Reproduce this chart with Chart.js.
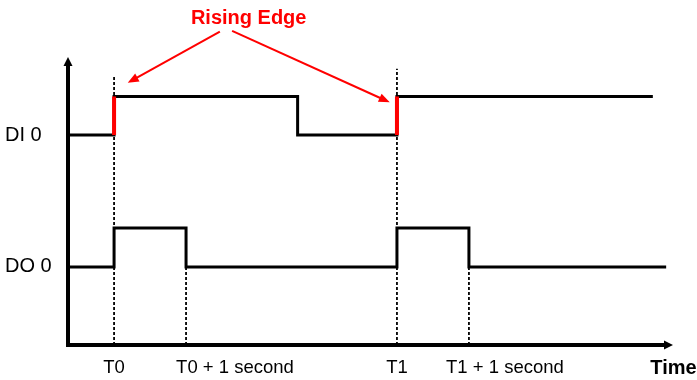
<!DOCTYPE html>
<html>
<head>
<meta charset="utf-8">
<script src="https://cdn.jsdelivr.net/npm/chart.js@4/dist/chart.umd.min.js"></script>
<style>
  html, body { margin: 0; padding: 0; background: #fff; }
  #wrap { width: 697px; height: 380px; }
</style>
</head>
<body>
<div id="wrap"><canvas id="c" width="697" height="380"></canvas></div>
<script>
// ---- data (time in seconds from axis origin, level in signal units) ----
const xTickValues = [0.64, 2.32, 4.57, 6.07];   // where the time labels sit
const xTickLabels = ['T0', 'T0 + 1 second', 'T1', 'T1 + 1 second'];
const yTickValues = [2, 5.38];
const yTickLabels = ['DO 0', 'DI 0'];

const diTimes  = [0, 0.64, 3.19, 4.57, 8.125];
const diLevels = [5.38, 6.37, 5.38, 6.37, 6.37];
const doTimes  = [0, 0.64, 1.64, 4.57, 5.57, 8.31];
const doLevels = [2, 3, 2, 3, 2, 2];

const markerTimes = [0.64, 1.64, 4.57, 5.57];
const markerTops  = [6.9, 3, 7.08, 3];

const xMax = 8.28;
const yMax = 7.15;

const annotationText = 'Rising Edge';
const annotationPos = { x: 2.51, y: 8.38 };
const arrowStarts = [{ x: 2.11, y: 8.03 }, { x: 2.28, y: 8.05 }];
const arrowTips   = [{ x: 0.83, y: 6.72 }, { x: 4.47, y: 6.22 }];
const axisTitle = 'Time';

// ---- build datasets ----
const FONT = "'Liberation Sans', Arial, sans-serif";
const toPts = (xs, ys) => xs.map((x, i) => ({ x: x, y: ys[i] }));

const risingEdges = [];
for (let i = 1; i < diTimes.length; i++) {
  if (diLevels[i] > diLevels[i - 1]) {
    risingEdges.push({
      label: 'rise' + i,
      data: [{ x: diTimes[i], y: diLevels[i - 1] }, { x: diTimes[i], y: diLevels[i] }],
      borderColor: '#ff0000', borderWidth: 4, pointRadius: 0, clip: false
    });
  }
}
const markers = markerTimes.map((t, i) => ({
  label: 'marker' + i,
  data: [{ x: t, y: 0 }, { x: t, y: markerTops[i] }],
  borderColor: '#000', borderWidth: 1.8, borderDash: [3, 2], pointRadius: 0, clip: false
}));

const datasets = [
  ...risingEdges,
  { label: 'DI 0', data: toPts(diTimes, diLevels), stepped: 'before', borderColor: '#000', borderWidth: 3, pointRadius: 0, clip: false },
  { label: 'DO 0', data: toPts(doTimes, doLevels), stepped: 'before', borderColor: '#000', borderWidth: 3, pointRadius: 0, clip: false },
  ...markers
];

function arrowHead(ctx, x1, y1, x2, y2, len, half) {
  const a = Math.atan2(y2 - y1, x2 - x1);
  ctx.beginPath();
  ctx.moveTo(x2, y2);
  ctx.lineTo(x2 - len * Math.cos(a) + half * Math.sin(a), y2 - len * Math.sin(a) - half * Math.cos(a));
  ctx.lineTo(x2 - len * Math.cos(a) - half * Math.sin(a), y2 - len * Math.sin(a) + half * Math.cos(a));
  ctx.closePath();
  ctx.fill();
}

const overlay = {
  id: 'overlay',
  afterDraw(chart) {
    const ctx = chart.ctx;
    const xs = chart.scales.x, ys = chart.scales.y;
    const ca = chart.chartArea;
    ctx.save();
    // axis arrowheads
    ctx.fillStyle = '#000';
    arrowHead(ctx, ca.left, ca.top + 10, ca.left, ca.top - 9, 9, 4.5);
    arrowHead(ctx, ca.right - 10, ca.bottom, ca.right + 9, ca.bottom, 9, 4.5);
    // Time label
    ctx.font = 'bold 20px ' + FONT;
    ctx.textAlign = 'center';
    ctx.textBaseline = 'middle';
    ctx.fillText(axisTitle, ca.right + 9.5, ca.bottom + 23);
    // annotation
    ctx.fillStyle = '#ff0000';
    ctx.strokeStyle = '#ff0000';
    ctx.font = 'bold 20px ' + FONT;
    ctx.fillText(annotationText, xs.getPixelForValue(annotationPos.x), ys.getPixelForValue(annotationPos.y));
    ctx.lineWidth = 2;
    arrowStarts.forEach((s, i) => {
      const x1 = xs.getPixelForValue(s.x), y1 = ys.getPixelForValue(s.y);
      const x2 = xs.getPixelForValue(arrowTips[i].x), y2 = ys.getPixelForValue(arrowTips[i].y);
      const a = Math.atan2(y2 - y1, x2 - x1);
      ctx.beginPath();
      ctx.moveTo(x1, y1);
      ctx.lineTo(x2 - 8 * Math.cos(a), y2 - 8 * Math.sin(a));
      ctx.stroke();
      arrowHead(ctx, x1, y1, x2, y2, 11, 4.5);
    });
    ctx.restore();
  }
};

new Chart(document.getElementById('c'), {
  type: 'line',
  data: { datasets: datasets },
  options: {
    responsive: false,
    animation: false,
    events: [],
    layout: { padding: { left: 5, top: 66, right: 33, bottom: 0 } },
    plugins: { legend: { display: false }, tooltip: { enabled: false } },
    elements: { line: { tension: 0 } },
    scales: {
      x: {
        type: 'linear', min: 0, max: xMax,
        grid: { display: false, drawTicks: false },
        border: { display: true, width: 4, color: '#000' },
        afterBuildTicks: s => { s.ticks = xTickValues.map(v => ({ value: v })); },
        afterFit: s => { s.height = 35; },
        ticks: {
          autoSkip: false, maxRotation: 0, padding: 12, color: '#000',
          font: { family: FONT, size: 18.5 },
          callback: (v, i) => xTickLabels[i]
        }
      },
      y: {
        type: 'linear', min: 0, max: yMax,
        grid: { display: false, drawTicks: false },
        border: { display: true, width: 4, color: '#000' },
        afterBuildTicks: s => { s.ticks = yTickValues.map(v => ({ value: v })); },
        afterFit: s => { s.width = 63; },
        ticks: {
          autoSkip: false, crossAlign: 'far', padding: 0, color: '#000',
          font: { family: FONT, size: 20 },
          callback: (v, i) => yTickLabels[i]
        }
      }
    }
  },
  plugins: [overlay]
});
</script>
</body>
</html>
